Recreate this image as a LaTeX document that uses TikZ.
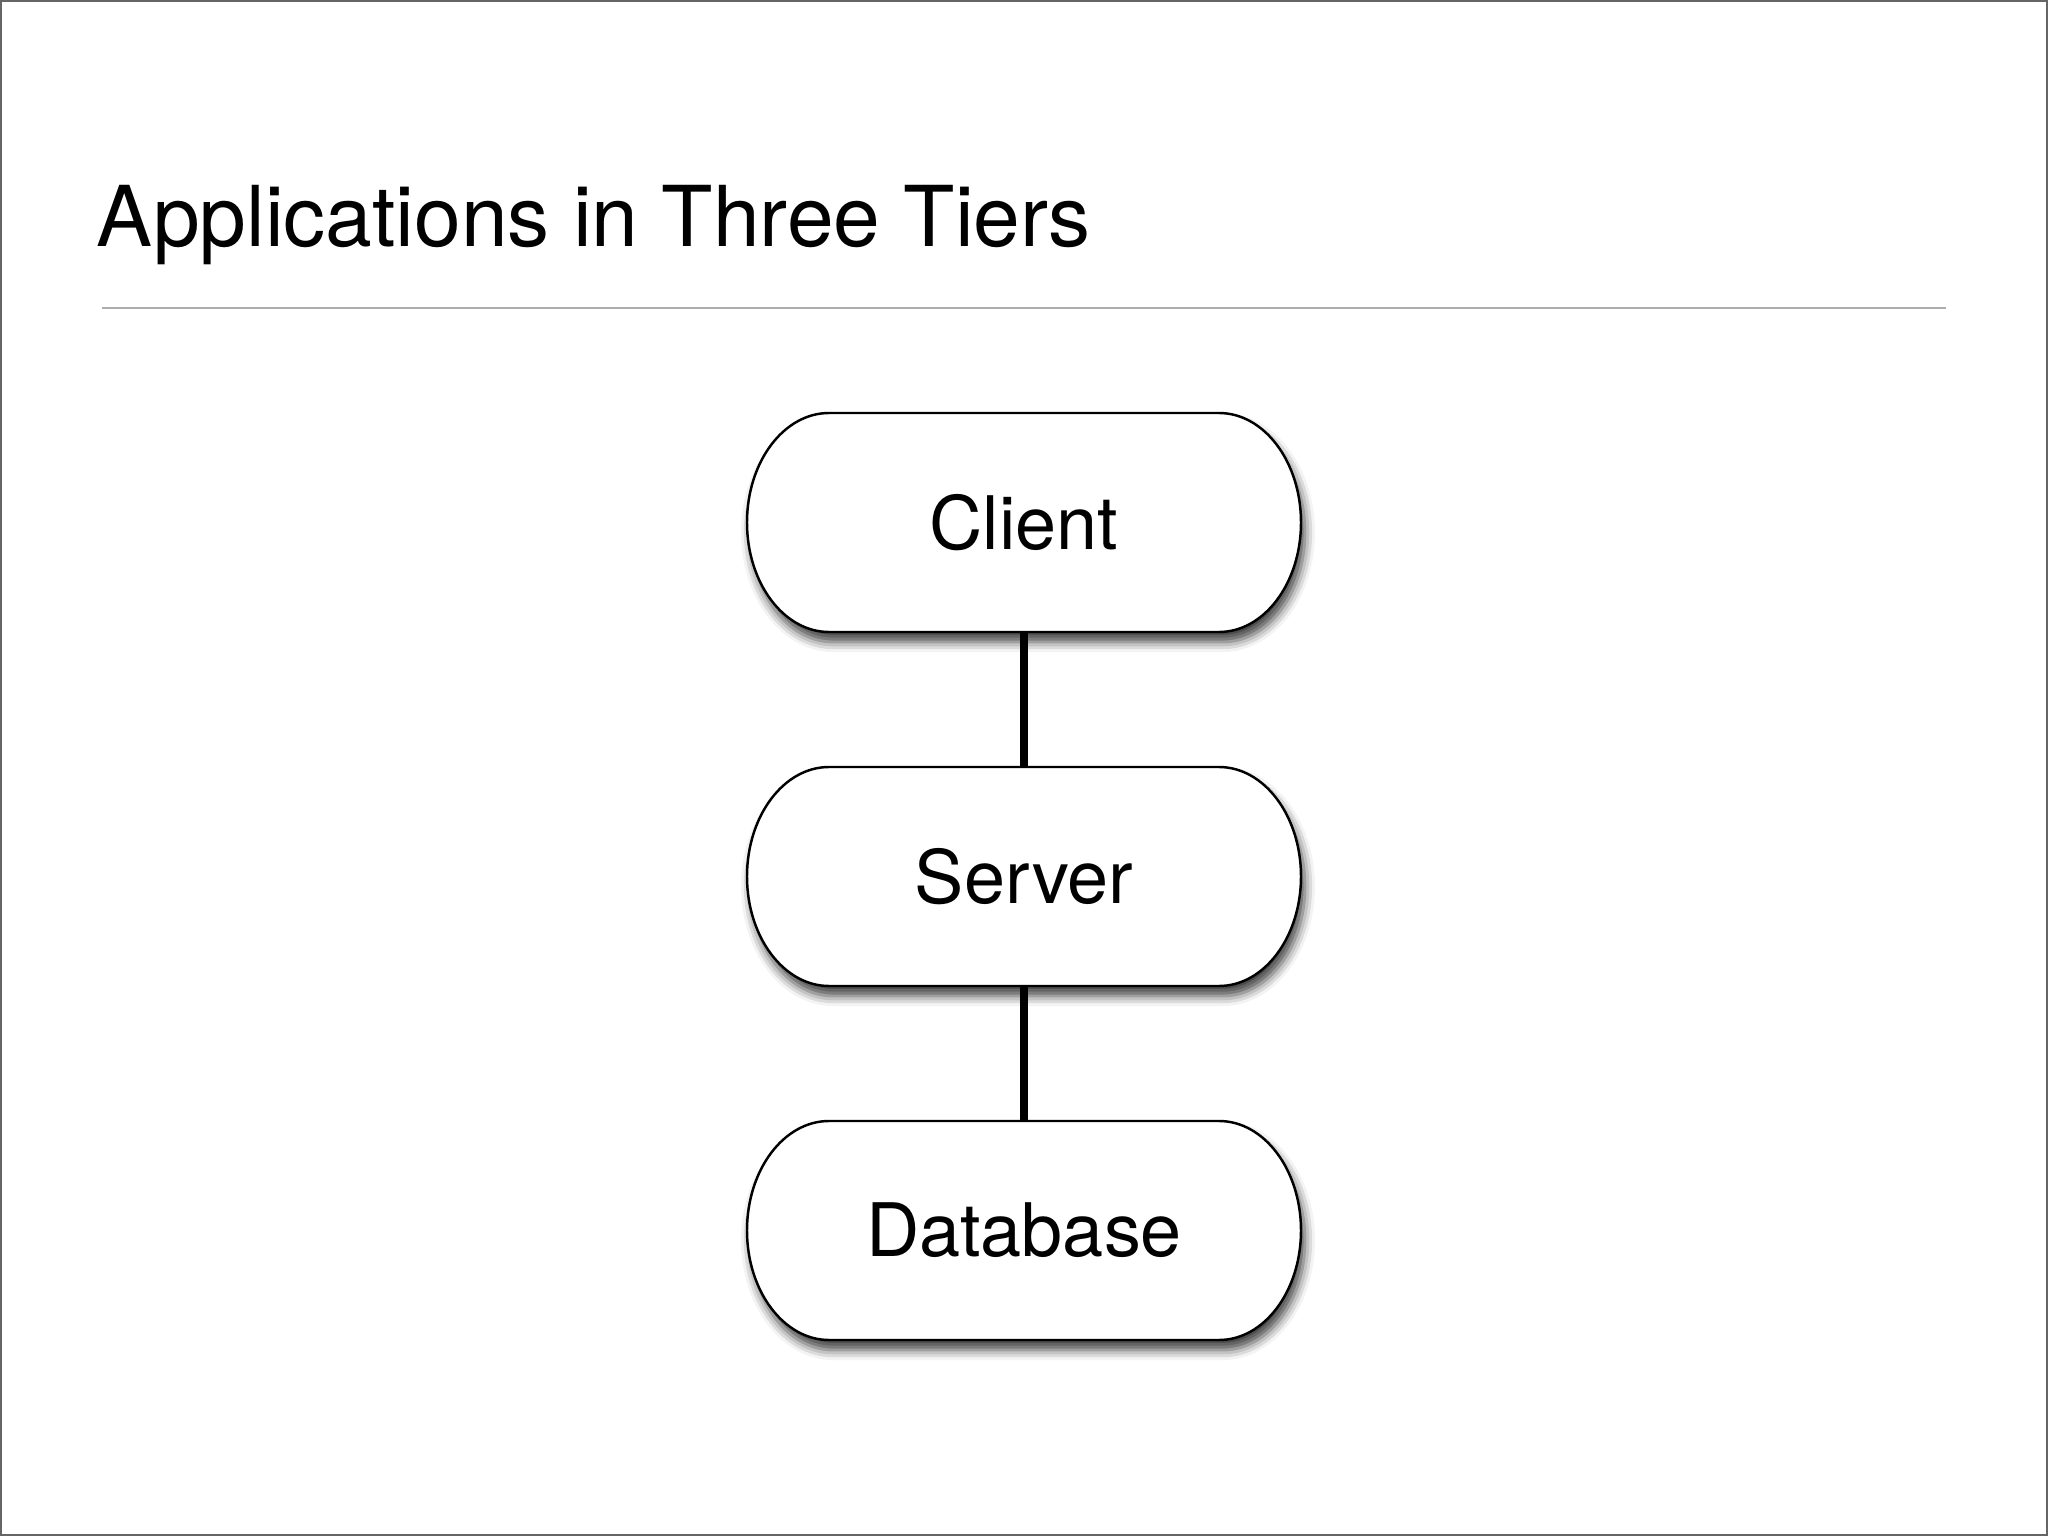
\documentclass[tikz,border=0pt]{standalone}
\usepackage{fontspec}
\setmainfont{TeX Gyre Heros}
\usetikzlibrary{backgrounds,shadows.blur}
\newcommand\tierR{0.82cm}    % horizontal radius of the round ends
\newcommand\tierHalf{1.095cm}% half height of a tier
% outline of a tier with elliptic ends, behind the node
\newcommand\TierOutline[1]{%
    \begin{scope}[on background layer]
        \draw[tier outline] ([xshift=\tierR]#1.north west) -- ([xshift=-\tierR]#1.north east)
            arc[start angle=90, end angle=-90, x radius=\tierR, y radius=\tierHalf]
            -- ([xshift=\tierR]#1.south west)
            arc[start angle=270, end angle=90, x radius=\tierR, y radius=\tierHalf]
            -- cycle;
    \end{scope}
}

\begin{document}
\begin{tikzpicture}[
        inner sep=0pt,%
        outer sep=0pt,%
        tier/.style={minimum width=5.54cm, minimum height=2.19cm,
            font=\fontsize{21}{25}\selectfont},%
        tier outline/.style={draw, line width=0.7pt, fill=white,
            blur shadow={shadow xshift=0.04cm, shadow yshift=-0.1cm,
                shadow blur radius=0.1cm, shadow opacity=75}},%
        link/.style={line width=2.5pt},%
        frame/.style={draw=black!60, line width=0.5pt}
    ]
    %% page and frame
    \useasboundingbox (0,0) rectangle (20.48,-15.36);
    \draw[frame] (0.01,-0.01) rectangle (20.47,-15.35);
    %
    \node[anchor=base west, font=\fontsize{23.9}{28}\selectfont] (title) at (0.97,-2.47)
        {Applications in Three Tiers};
    \draw[black!32, line width=0.8pt] (1.02,-3.08) coordinate (ruleL) -- (19.46,-3.08) coordinate (ruleR);
    %
    % the three tiers
    \node[tier] (client)   at (10.24,-5.225)  {Client};
    \node[tier] (server)   at (10.24,-8.765)  {Server};
    \node[tier] (database) at (10.24,-12.305) {Database};
    \TierOutline{client}
    \TierOutline{server}
    \TierOutline{database}
    %
    \draw[link] (client) -- (server);
    \draw[link] (server) -- (database);
\end{tikzpicture}
\end{document}
